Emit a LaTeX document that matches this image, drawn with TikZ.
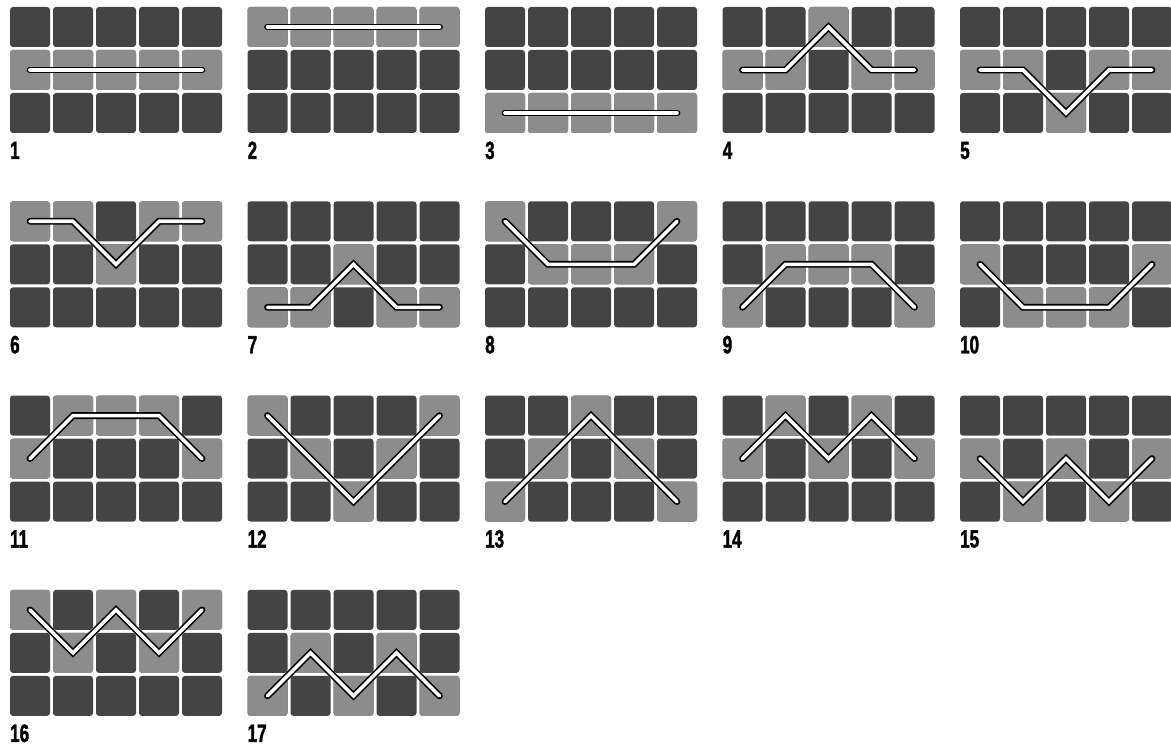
\documentclass[tikz,border=0pt]{standalone}
\usepackage{fontspec}
\newfontfamily\labfont[FakeStretch=0.68,FakeBold=1.5]{Liberation Sans}
\definecolor{cdark}{HTML}{444444}
\definecolor{clight}{HTML}{8C8C8C}
\tikzset{
  darkcell/.style={fill=cdark, rounded corners=3pt},
  lightcell/.style={fill=clight, rounded corners=3pt},
  pathout/.style={draw=black, line width=6.8pt, line cap=round, line join=miter},
  pathin/.style={draw=white, line width=3.6pt, line cap=round, line join=miter},
  lab/.style={anchor=base west, inner sep=0pt, font=\labfont\bfseries\fontsize{25}{25}\selectfont}
}
\begin{document}
\begin{tikzpicture}[x=1pt, y=-1pt]
\useasboundingbox[fill=white] (0,0) rectangle (1171,749);
\foreach \n/\a/\b/\c/\d/\e [count=\k from 0] in {
  1/1/1/1/1/1, 2/0/0/0/0/0, 3/2/2/2/2/2, 4/1/1/0/1/1, 5/1/1/2/1/1,
  6/0/0/1/0/0, 7/2/2/1/2/2, 8/0/1/1/1/0, 9/2/1/1/1/2, 10/1/2/2/2/1,
  11/1/0/0/0/1, 12/0/1/2/1/0, 13/2/1/0/1/2, 14/1/0/1/0/1, 15/1/2/1/2/1,
  16/0/1/0/1/0, 17/2/1/2/1/2}
{
  \pgfmathsetmacro{\gx}{10+237.5*mod(\k,5)}
  \pgfmathsetmacro{\gy}{7+194.3*int(\k/5)}
  \begin{scope}[shift={(\gx,\gy)}]
    \foreach \i in {0,...,4}
      \foreach \j in {0,1,2}
        \fill[darkcell] ({43*\i},{43*\j}) rectangle +(40,40);
    \foreach \i/\r in {0/\a,1/\b,2/\c,3/\d,4/\e}
      \fill[lightcell] ({43*\i},{43*\r}) rectangle +(40,40);
    \coordinate (p\n a) at (20,{20+43*\a});
    \coordinate (p\n b) at (63,{20+43*\b});
    \coordinate (p\n c) at (106,{20+43*\c});
    \coordinate (p\n d) at (149,{20+43*\d});
    \coordinate (p\n e) at (192,{20+43*\e});
    \draw[pathout] (p\n a) -- (p\n b) -- (p\n c) -- (p\n d) -- (p\n e);
    \draw[pathin] (p\n a) -- (p\n b) -- (p\n c) -- (p\n d) -- (p\n e);
    \node[lab] (lab\n) at (0,152) {\n};
  \end{scope}
}
\end{tikzpicture}
\end{document}
